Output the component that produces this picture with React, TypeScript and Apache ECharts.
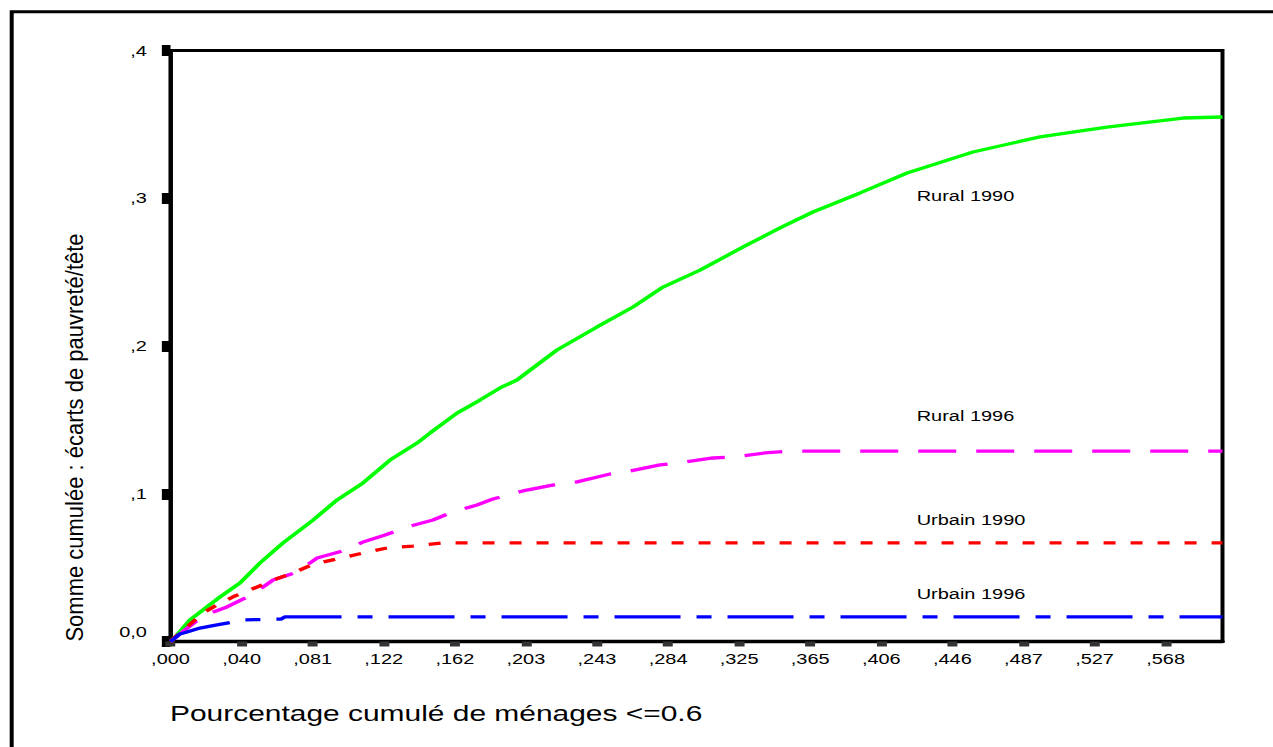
import React, { useEffect, useRef } from "react";
import * as echarts from "echarts";

// horizontal stretch of the original rendering
const S = 1273 / 957;

const xTickLabels = [",000", ",040", ",081", ",122", ",162", ",203", ",243", ",284", ",325", ",365", ",406", ",446", ",487", ",527", ",568"];
const xMax = 0.6;
const xStep = 0.6 / 14.8;
const xTickValues = xTickLabels.map((_, i) => i * xStep);
const yTickValues = [0, 0.1, 0.2, 0.3, 0.4];

const seriesNames = ["Rural 1990", "Rural 1996", "Urbain 1990", "Urbain 1996"];

const rural1990 = [
  [0, 0], [0.0026, 0.003], [0.0111, 0.0146], [0.0282, 0.0301], [0.0396, 0.0396], [0.051, 0.0531],
  [0.0642, 0.0667], [0.0813, 0.0822], [0.095, 0.0958], [0.1098, 0.1073], [0.1252, 0.1228],
  [0.1406, 0.1343], [0.148, 0.1411], [0.1634, 0.1546], [0.1765, 0.1634], [0.1879, 0.1716],
  [0.1976, 0.177], [0.2204, 0.1973], [0.2433, 0.2129], [0.2638, 0.2264], [0.2809, 0.2399],
  [0.302, 0.2514], [0.3288, 0.2684], [0.3476, 0.2799], [0.3664, 0.2907], [0.3933, 0.3036],
  [0.4201, 0.3171], [0.4577, 0.3313], [0.4959, 0.3415], [0.5341, 0.3482], [0.5775, 0.3543],
  [0.6, 0.355],
];

const rural1996 = [
  [0, 0], [0.0083, 0.0078], [0.0185, 0.0173], [0.0322, 0.0234], [0.0436, 0.0301], [0.0528, 0.0369],
  [0.0585, 0.0416], [0.0721, 0.047], [0.0836, 0.0565], [0.0984, 0.0613], [0.1098, 0.0673],
  [0.1224, 0.0721], [0.1349, 0.0775], [0.1497, 0.0822], [0.1594, 0.087], [0.1748, 0.0924],
  [0.1839, 0.0964], [0.201, 0.1019], [0.221, 0.1066], [0.2319, 0.108], [0.2507, 0.1134],
  [0.2621, 0.1154], [0.2792, 0.1195], [0.2895, 0.1208], [0.3094, 0.1242], [0.3208, 0.1249],
  [0.3391, 0.1276], [0.3533, 0.1289], [0.6, 0.1289],
];

const urbain1990 = [
  [0, 0], [0.0026, 0.003], [0.01, 0.0105], [0.0185, 0.0193], [0.0265, 0.0247], [0.0368, 0.0308],
  [0.0494, 0.0369], [0.0585, 0.0416], [0.0699, 0.0464], [0.0818, 0.0525], [0.0973, 0.0565],
  [0.1098, 0.0599], [0.1235, 0.0633], [0.1383, 0.0646], [0.1554, 0.0667], [0.6, 0.0667],
];

const urbain1996 = [
  [0, 0], [0.0031, 0.003], [0.0054, 0.0051], [0.0094, 0.0064], [0.0168, 0.0091], [0.0265, 0.0112],
  [0.0322, 0.0125], [0.0425, 0.0146], [0.063, 0.0152], [0.0653, 0.0166], [0.6, 0.0166],
];

const seriesData = [rural1990, rural1996, urbain1990, urbain1996];
const seriesColors = ["#00ff00", "#ff00ff", "#ff0000", "#0000ff"];
const seriesDashes: any[] = ["solid", [38 / S, 20 / S], [12 / S, 15 / S], [66 / S, 16 / S, 15 / S, 16 / S]];
const labelY = [195.5, 416, 519.5, 594];

const FONT = "'Liberation Sans', Arial, Helvetica, sans-serif";

export default function App() {
  const ref = useRef<HTMLDivElement>(null);
  useEffect(() => {
    if (!ref.current) return;
    const chart = echarts.init(ref.current, null, { renderer: "svg" });
    chart.setOption({
      animation: false,
      backgroundColor: "#ffffff",
      grid: {
        left: 170.5 / S,
        right: 957 - 1222.5 / S,
        top: 50.5,
        bottom: 747 - 641.5,
        show: true,
        borderColor: "#000",
        borderWidth: 3,
        backgroundColor: "transparent",
      },
      xAxis: {
        type: "value",
        min: 0,
        max: xMax,
        axisLine: { show: true, onZero: false, lineStyle: { color: "#000", width: 3.3 } },
        axisTick: { show: true, customValues: xTickValues, length: 5, lineStyle: { color: "#333", width: 7.5 } },
        axisLabel: {
          customValues: xTickValues,
          formatter: (v: number) => xTickLabels[Math.round(v / xStep)] ?? "",
          margin: 10,
          fontSize: 15,
          fontFamily: FONT,
          color: "#000",
        },
        splitLine: { show: false },
      },
      yAxis: {
        type: "value",
        min: 0,
        max: 0.4,
        interval: 0.1,
        axisLine: { show: true, onZero: false, lineStyle: { color: "#000", width: 3 } },
        axisTick: { show: true, customValues: yTickValues, length: 6.5, lineStyle: { color: "#000", width: 11 } },
        axisLabel: {
          customValues: yTickValues,
          formatter: (v: number) => (v === 0 ? "{z|0,0}" : "," + Math.round(v * 10)),
          margin: 17.7,
          fontSize: 15,
          fontFamily: FONT,
          color: "#000",
          rich: { z: { fontSize: 15, fontFamily: FONT, color: "#000", padding: [0, 0, 19, 0] } },
        },
        splitLine: { show: false },
      },
      series: seriesData.map((d, i) => ({
        name: seriesNames[i],
        type: "line",
        data: d,
        showSymbol: false,
        symbol: "none",
        lineStyle: { color: seriesColors[i], width: 3.3, type: seriesDashes[i] },
      })),
      graphic: [
        {
          type: "rect",
          silent: true,
          shape: { x: 11.7 / S, y: 11.7, width: 3000, height: 3000 },
          style: { fill: "none", stroke: "#000", lineWidth: 3 },
        },
        {
          type: "text",
          x: 170 / S,
          y: 713,
          style: { text: "Pourcentage cumulé de ménages <=0.6", fontSize: 22.5, fontFamily: FONT, fill: "#000", align: "left", verticalAlign: "middle" },
        },
        {
          type: "text",
          x: 75 / S,
          y: 437.5,
          rotation: Math.PI / 2,
          scaleY: 1.1 / S,
          style: { text: "Somme cumulée : écarts de pauvreté/tête", fontSize: 22, fontFamily: FONT, fill: "#000", align: "center", verticalAlign: "middle" },
        },
        ...seriesNames.map((n, i) => ({
          type: "text",
          x: 916.7 / S,
          y: labelY[i],
          style: { text: n, fontSize: 15, fontFamily: FONT, fill: "#000", align: "left", verticalAlign: "middle" },
        })),
      ],
    });
    return () => chart.dispose();
  }, []);
  return (
    <div
      ref={ref}
      style={{
        position: "fixed",
        left: 0,
        top: 0,
        width: 957,
        height: 747,
        transform: `scaleX(${S})`,
        transformOrigin: "0 0",
        background: "#fff",
      }}
    />
  );
}
